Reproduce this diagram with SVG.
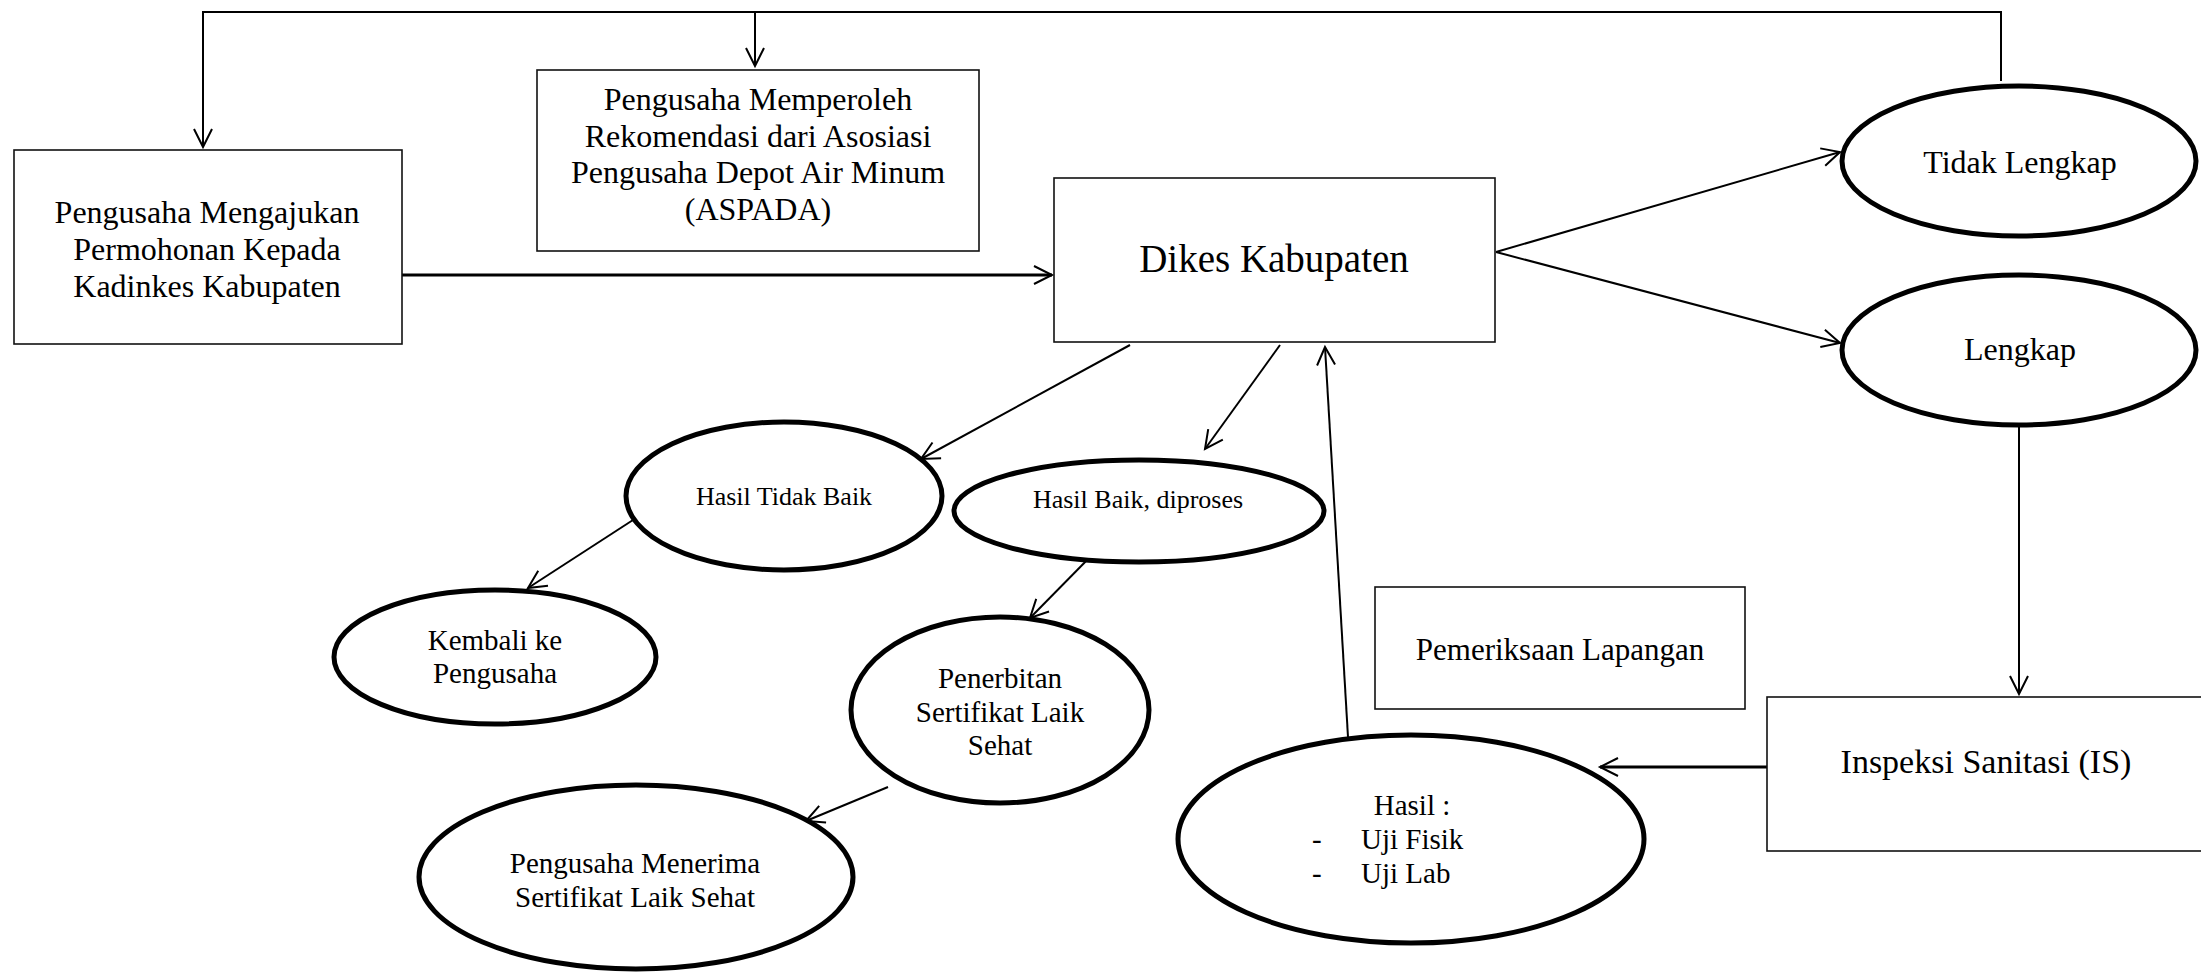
<svg xmlns="http://www.w3.org/2000/svg" width="2201" height="972" viewBox="0 0 2201 972">
<style>
.box{fill:#fff;stroke:#111;stroke-width:1.6}
.ell{fill:#fff;stroke:#000;stroke-width:5}
.ln{fill:none;stroke:#000;stroke-width:2}
.lnb{fill:none;stroke:#000;stroke-width:3}
text{font-family:"Liberation Serif","Times New Roman",serif;fill:#000}
.c{text-anchor:middle}
.f32{font-size:32px}
.f26{font-size:26px}
.f29{font-size:29px}
</style>
<defs>
<marker id="ah" markerWidth="24" markerHeight="24" refX="21" refY="12" orient="auto" markerUnits="userSpaceOnUse" viewBox="0 0 24 24">
<path d="M3,3 L21,12 L3,21" fill="none" stroke="#000" stroke-width="2"/>
</marker>
</defs>
<rect width="2201" height="972" fill="#fff"/>
<g id="connectors">
<path class="ln" d="M2001,81 L2001,12 L203,12 L203,147" marker-end="url(#ah)"/>
<path class="ln" d="M755,12 L755,66" marker-end="url(#ah)"/>
<path class="lnb" d="M402,275 L1052,275" marker-end="url(#ah)"/>
<path class="ln" d="M1496,252 L1840,152" marker-end="url(#ah)"/>
<path class="ln" d="M1496,252 L1840,343" marker-end="url(#ah)"/>
<path class="ln" d="M2019,425 L2019,694" marker-end="url(#ah)"/>
<path class="lnb" d="M1767,767 L1600,767" marker-end="url(#ah)"/>
<path class="ln" d="M1348,737 L1325,347" marker-end="url(#ah)"/>
<path class="ln" d="M1130,345 L921,459" marker-end="url(#ah)"/>
<path class="ln" d="M1280,345 L1205,449" marker-end="url(#ah)"/>
<path class="ln" d="M633,520 L528,588" marker-end="url(#ah)"/>
<path class="ln" d="M1093,554 L1030,618" marker-end="url(#ah)"/>
<path class="ln" d="M888,787 L806,821" marker-end="url(#ah)"/>
</g>
<g id="pengajuan">
<rect class="box" x="14" y="150" width="388" height="194"/>
<text class="c f32" x="207" y="223">Pengusaha Mengajukan</text>
<text class="c f32" x="207" y="260">Permohonan Kepada</text>
<text class="c f32" x="207" y="297">Kadinkes Kabupaten</text>
</g>
<g id="aspada">
<rect class="box" x="537" y="70" width="442" height="181"/>
<text class="c f32" x="758" y="110">Pengusaha Memperoleh</text>
<text class="c f32" x="758" y="147">Rekomendasi dari Asosiasi</text>
<text class="c f32" x="758" y="183">Pengusaha Depot Air Minum</text>
<text class="c f32" x="758" y="220">(ASPADA)</text>
</g>
<g id="dikes">
<rect class="box" x="1054" y="178" width="441" height="164"/>
<text class="c" x="1274" y="272" font-size="39">Dikes Kabupaten</text>
</g>
<g id="tidak-lengkap">
<ellipse class="ell" cx="2019" cy="161" rx="177" ry="75"/>
<text class="c f32" x="2020" y="173">Tidak Lengkap</text>
</g>
<g id="lengkap">
<ellipse class="ell" cx="2019" cy="350" rx="177" ry="75"/>
<text class="c f32" x="2020" y="360">Lengkap</text>
</g>
<g id="inspeksi">
<rect class="box" x="1767" y="697" width="440" height="154"/>
<text class="c" x="1986" y="773" font-size="34">Inspeksi Sanitasi (IS)</text>
</g>
<g id="pemeriksaan">
<rect class="box" x="1375" y="587" width="370" height="122"/>
<text class="c" x="1560" y="660" font-size="31">Pemeriksaan Lapangan</text>
</g>
<g id="hasil-uji">
<ellipse class="ell" cx="1411" cy="839" rx="233" ry="104"/>
<text class="c f29" x="1412" y="815">Hasil :</text>
<text class="f29" x="1312" y="849">-</text>
<text class="f29" x="1361" y="849">Uji Fisik</text>
<text class="f29" x="1312" y="883">-</text>
<text class="f29" x="1361" y="883">Uji Lab</text>
</g>
<g id="hasil-tidak-baik">
<ellipse class="ell" cx="784" cy="496" rx="158" ry="74"/>
<text class="c f26" x="784" y="505">Hasil Tidak Baik</text>
</g>
<g id="hasil-baik">
<ellipse class="ell" cx="1139" cy="511" rx="185" ry="51"/>
<text class="c f26" x="1138" y="508">Hasil Baik, diproses</text>
</g>
<g id="kembali">
<ellipse class="ell" cx="495" cy="657" rx="161" ry="67"/>
<text class="c f29" x="495" y="650">Kembali ke</text>
<text class="c f29" x="495" y="683">Pengusaha</text>
</g>
<g id="penerbitan">
<ellipse class="ell" cx="1000" cy="710" rx="149" ry="93"/>
<text class="c f29" x="1000" y="688">Penerbitan</text>
<text class="c f29" x="1000" y="722">Sertifikat Laik</text>
<text class="c f29" x="1000" y="755">Sehat</text>
</g>
<g id="menerima">
<ellipse class="ell" cx="636" cy="877" rx="217" ry="92"/>
<text class="c f29" x="635" y="873">Pengusaha Menerima</text>
<text class="c f29" x="635" y="907">Sertifikat Laik Sehat</text>
</g>
</svg>
